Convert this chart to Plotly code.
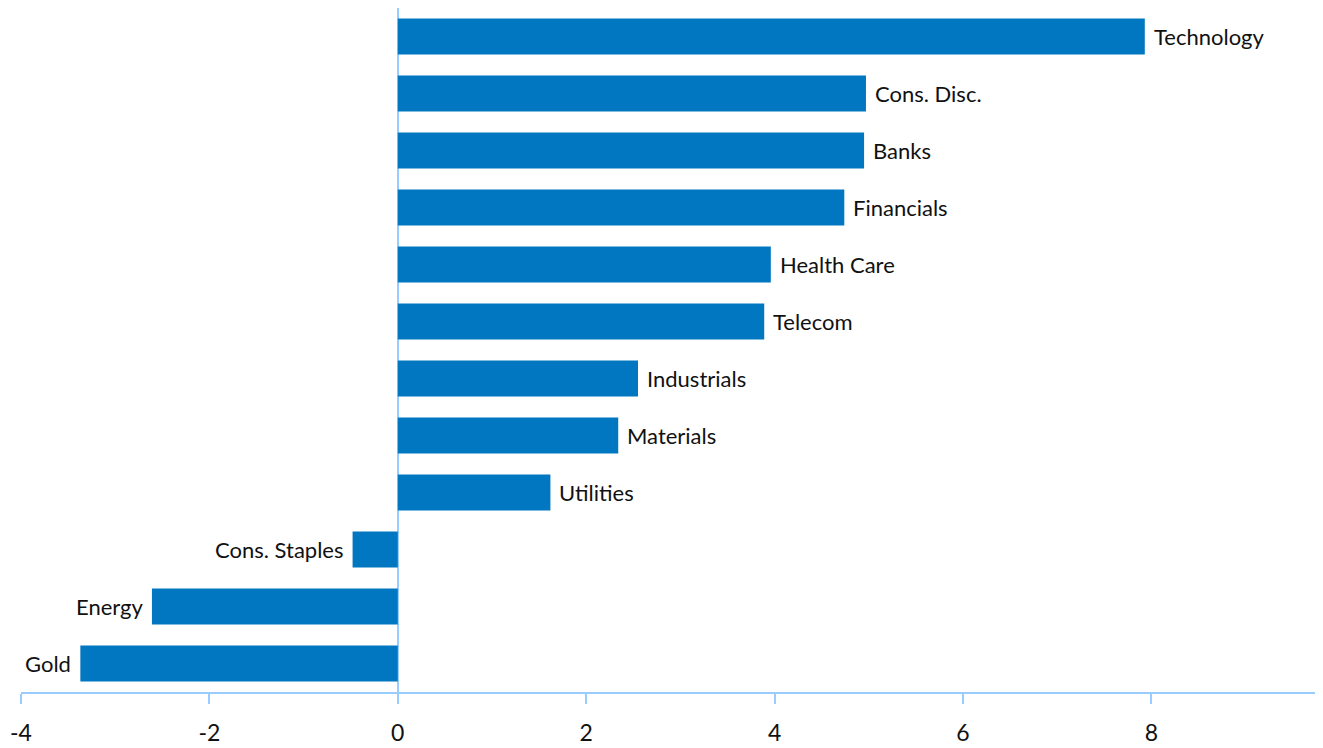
import plotly.graph_objects as go

categories = ["Technology", "Cons. Disc.", "Banks", "Financials", "Health Care", "Telecom",
              "Industrials", "Materials", "Utilities", "Cons. Staples", "Energy", "Gold"]
values = [7.93, 4.97, 4.95, 4.74, 3.96, 3.89, 2.55, 2.34, 1.62, -0.48, -2.61, -3.37]
tick_vals = [-4, -2, 0, 2, 4, 6, 8]
tick_text = ["-4", "-2", "0", "2", "4", "6", "8"]

FONT = "Lato, Open Sans, sans-serif"
TXT = "#111111"

fig = go.Figure(go.Bar(
    x=values, y=categories, orientation="h",
    marker=dict(color="#0077C0", line=dict(width=0)),
    width=0.63,
    hoverinfo="x+y",
))

for v, c in zip(values, categories):
    fig.add_annotation(
        x=v, y=c, text=c, showarrow=False,
        xanchor="left" if v >= 0 else "right",
        xshift=7 if v >= 0 else -7,
        font=dict(family=FONT, size=22, color=TXT),
    )

fig.update_layout(
    width=1315, height=740,
    margin=dict(l=13, r=3, t=0, b=56),
    plot_bgcolor="white", paper_bgcolor="white",
    showlegend=False,
    font=dict(family=FONT, size=22, color=TXT),
    xaxis=dict(range=[-4, 9.79], tickvals=tick_vals, ticktext=tick_text, showgrid=False,
               automargin=False,
               zeroline=True, zerolinecolor="#99CCFF", zerolinewidth=2,
               showline=True, linecolor="#99CCFF", linewidth=2,
               ticks="outside", ticklen=10, tickcolor="#99CCFF", tickwidth=2,
               ticklabelstandoff=9,
               tickfont=dict(family=FONT, size=23, color=TXT)),
    yaxis=dict(autorange="reversed", showticklabels=False, showgrid=False,
               automargin=False,
               zeroline=False, showline=False, ticks=""),
)

fig.write_html("out.html")
